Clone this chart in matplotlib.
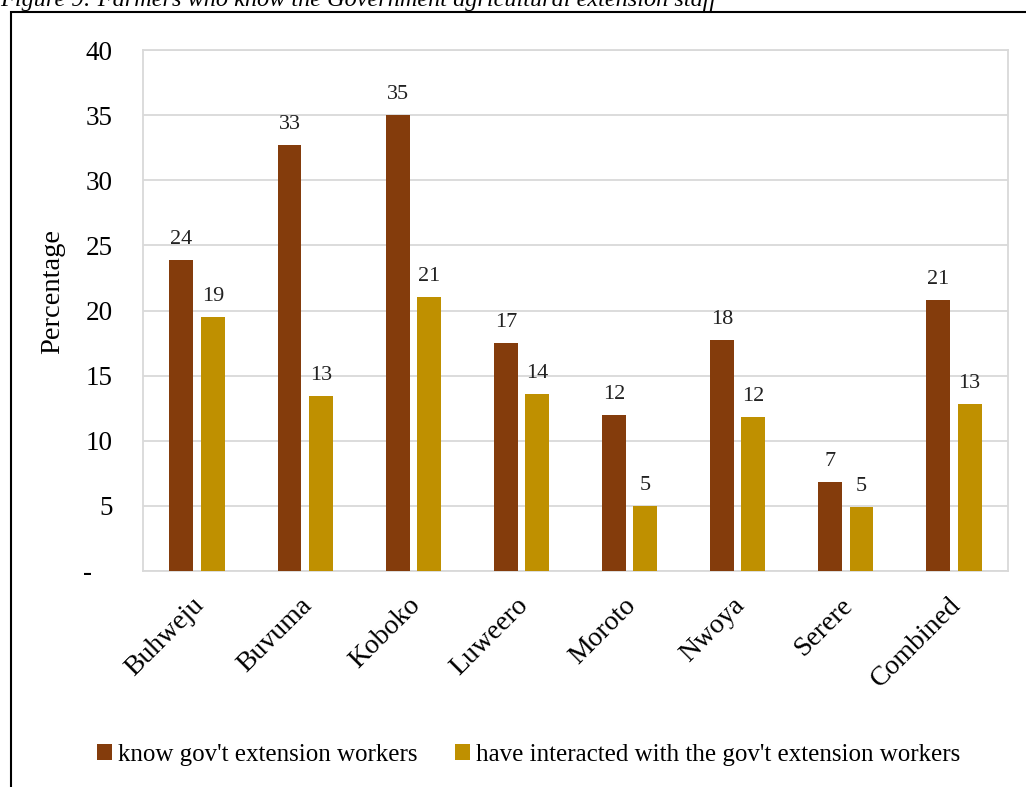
import numpy as np
import matplotlib
matplotlib.use("Agg")
import matplotlib.pyplot as plt
import matplotlib.transforms as mtransforms
from matplotlib.patches import Rectangle

plt.rcParams["font.family"] = ["Liberation Serif", "DejaVu Serif"]

districts = ["Buhweju", "Buvuma", "Koboko", "Luweero", "Moroto", "Nwoya", "Serere", "Combined"]
know = [23.9, 32.7, 35.0, 17.5, 12.0, 17.7, 6.8, 20.8]
interacted = [19.5, 13.4, 21.0, 13.6, 5.0, 11.8, 4.9, 12.8]
know_lbl = [24, 33, 35, 17, 12, 18, 7, 21]
inter_lbl = [19, 13, 21, 14, 5, 12, 5, 13]
yticks = [0, 5, 10, 15, 20, 25, 30, 35, 40]
ytick_lbl = ["-   ", "5", "10", "15", "20", "25", "30", "35", "40"]

BROWN, GOLD, GRID = "#843C0C", "#BF9000", "#D9D9D9"

fig = plt.figure(figsize=(10.26, 7.87), dpi=100)
ax = fig.add_axes([143/1026, 1 - 571/787, 865/1026, 521/787])

x = np.arange(len(districts))
w, off = 0.22, 0.145
b1 = ax.bar(x - off, know, w, color=BROWN, label="know gov't extension workers", zorder=3)
b2 = ax.bar(x + off, interacted, w, color=GOLD,
            label="have interacted with the gov't extension workers", zorder=3)
for bars, lbls in ((b1, know_lbl), (b2, inter_lbl)):
    for r, t in zip(bars, lbls):
        ax.annotate(str(t), (r.get_x() + r.get_width()/2, r.get_height()),
                    xytext=(0, 8), textcoords="offset points", ha="center", va="bottom",
                    fontsize=16, color="#222222")

ax.set_xlim(-0.5, len(districts) - 0.5)
ax.set_ylim(0, 40)
ax.set_yticks(yticks)
ax.set_yticklabels(ytick_lbl, fontsize=19.5)
ax.yaxis.grid(True, color=GRID, lw=1.3, zorder=0)
for s in ax.spines.values():
    s.set_color(GRID); s.set_linewidth(1.3)
ax.tick_params(length=0)
ax.tick_params(axis="y", pad=22)
ax.set_xticks(x)
ax.set_xticklabels(districts, rotation=45, ha="right", rotation_mode="anchor", fontsize=20)
shift = mtransforms.ScaledTranslation(-6/100, -17/100, fig.dpi_scale_trans)
for lb in ax.get_xticklabels():
    lb.set_transform(lb.get_transform() + shift)
ax.set_ylabel("Percentage", fontsize=20.5)
ax.yaxis.set_label_coords(-78/865, (571 - 291)/521)

fig.legend(loc="center", bbox_to_anchor=(0.515, 1 - 755/787), ncol=2, frameon=False,
           fontsize=18, handlelength=0.6, handleheight=0.6, handletextpad=0.25,
           columnspacing=1.5)

fig.add_artist(Rectangle((11/1026, -0.01), 1.1, 1 - 12/787 + 0.01, transform=fig.transFigure,
                         fill=False, ec="black", lw=1.5))
fig.text(0.0, 1 - 6/787, "Figure 9: Farmers who know the Government agricultural extension staff",
         fontsize=17.5, style="italic", va="baseline", ha="left")

fig.savefig("out.png", dpi=100)
